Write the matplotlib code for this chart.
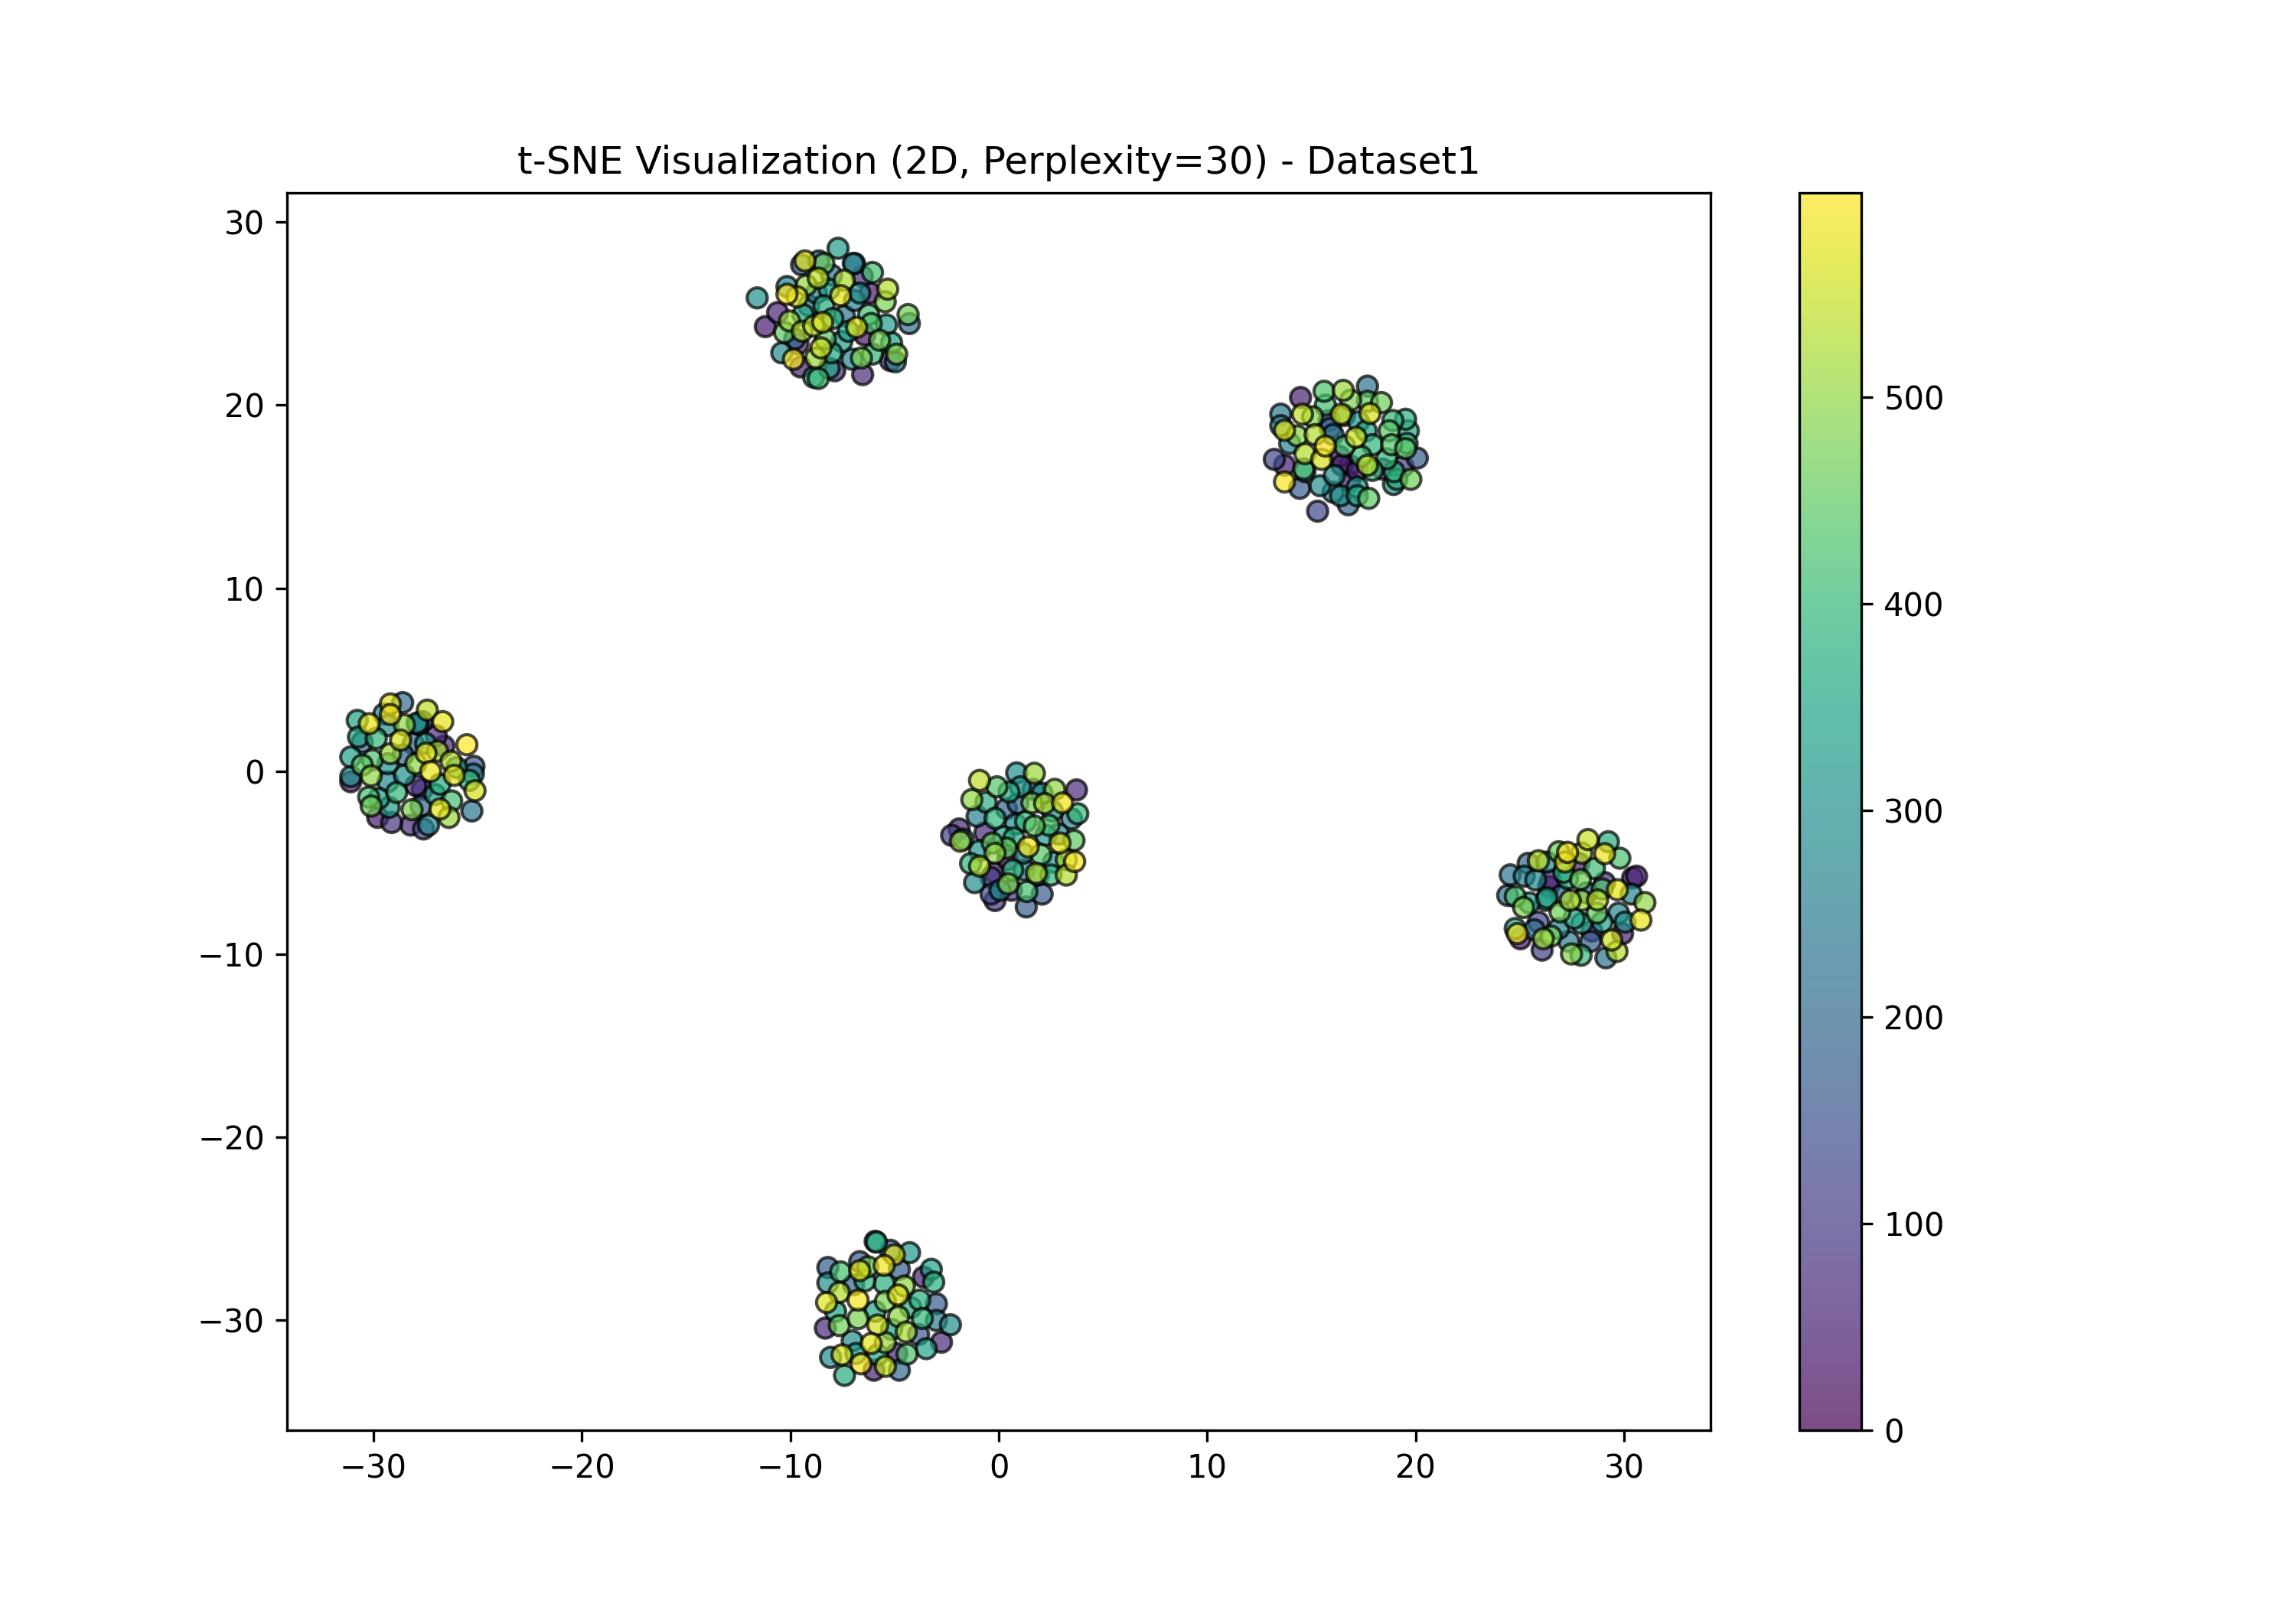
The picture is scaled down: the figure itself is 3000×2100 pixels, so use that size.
import numpy as np
import matplotlib
matplotlib.use("Agg")
import matplotlib.pyplot as plt

TITLE = "t-SNE Visualization (2D, Perplexity=30) - Dataset1"

top_x = [-11.20,-10.61,-6.53,-7.87,-9.51,-6.43,-5.20,-6.18,-6.55,-9.63,-9.46,-8.63,-9.79,-6.92,-8.02,-9.12,-7.41,-7.04,-10.16,-10.41,-11.59,-7.71,-6.98,-8.75,-4.96,-6.92,-6.67,-5.39,-5.14,-8.14,-7.53,-7.22,-9.39,-8.14,-8.02,-8.39,-6.06,-8.88,-7.96,-6.06,-6.24,-6.12,-8.39,-8.32,-4.29,-4.35,-5.45,-10.28,-8.66,-9.24,-7.41,-5.33,-8.78,-6.59,-5.72,-4.90,-10.04,-8.88,-9.43,-8.45,-8.66,-8.53,-6.82,-9.67,-7.59,-9.30,-10.16,-9.85]
top_y = [24.29,25.06,21.67,21.88,22.09,23.83,22.44,26.13,27.04,23.34,27.67,27.88,23.62,27.74,27.11,25.44,24.88,22.51,26.48,22.86,25.86,28.57,27.74,26.13,22.37,25.72,26.13,24.39,23.41,26.34,23.48,24.04,24.95,22.02,22.86,25.44,22.79,21.53,24.74,27.25,24.95,24.46,27.74,23.62,24.46,24.95,25.65,23.97,21.46,26.55,26.83,26.34,22.58,22.58,23.55,22.79,24.60,24.32,24.04,24.53,26.94,23.13,24.25,25.92,25.99,27.88,26.06,22.51]
top_c = [40,60,70,70,50,30,60,40,90,60,180,190,200,200,220,240,230,280,270,290,300,330,270,260,270,280,290,330,340,340,330,340,370,350,360,370,400,340,380,420,420,430,460,450,220,470,480,450,410,500,520,530,510,480,470,490,510,540,530,560,540,550,560,570,570,570,590,590]

ur_x = [14.48,13.71,13.22,15.30,14.44,20.08,16.77,17.69,13.53,13.53,13.96,16.83,16.46,16.34,16.83,19.40,18.42,15.85,15.91,16.04,17.20,14.69,15.42,16.10,16.04,16.40,17.20,17.20,18.94,19.10,18.97,18.61,17.93,17.26,17.63,16.59,15.61,15.67,18.36,17.69,16.89,16.53,18.91,19.52,19.65,19.59,18.73,18.85,19.52,17.38,17.93,16.59,14.63,15.06,19.77,17.75,14.32,15.18,14.57,16.43,17.81,17.14,14.69,15.49,15.67,17.69,13.71,13.71]
ur_y = [20.42,16.72,17.04,14.21,15.46,17.11,14.56,21.04,19.51,18.88,17.91,16.72,16.72,17.21,15.81,16.65,16.51,19.16,18.74,18.39,16.44,16.37,15.60,16.16,15.25,15.05,15.53,15.05,15.67,15.95,16.37,17.07,17.84,19.09,18.60,19.44,20.76,20.00,20.14,20.21,20.28,20.81,19.16,19.23,18.60,17.91,18.60,17.84,17.63,17.21,16.44,17.77,16.51,19.37,15.95,14.91,18.32,18.39,19.51,19.51,19.55,18.25,17.35,17.04,17.77,16.72,18.63,15.81]
ur_c = [50,40,130,130,170,170,190,230,240,260,280,20,50,40,60,100,60,120,180,230,70,260,290,300,280,290,320,360,320,370,390,390,390,310,350,290,430,420,470,450,480,510,400,380,360,400,440,440,440,410,400,420,430,480,470,450,490,530,540,560,560,550,530,560,590,540,570,590]

left_x = [-31.09,-29.80,-29.13,-28.21,-27.60,-28.60,-25.18,-26.62,-26.99,-27.66,-27.91,-28.09,-28.58,-30.54,-27.66,-27.97,-27.72,-25.28,-25.21,-27.36,-31.09,-29.31,-28.52,-30.78,-31.09,-30.72,-29.87,-29.50,-29.31,-27.85,-27.50,-29.31,-29.25,-29.74,-26.81,-27.05,-28.89,-30.23,-30.11,-30.05,-30.54,-30.11,-29.19,-28.52,-27.42,-26.68,-29.19,-29.19,-30.20,-28.70,-26.93,-27.97,-27.48,-27.26,-26.28,-26.13,-25.40,-25.13,-25.52,-26.25,-26.38,-28.15,-26.81,-26.01]
left_y = [-0.57,-2.52,-2.80,-2.94,-3.15,3.75,0.27,1.38,1.94,2.71,2.64,1.52,0.89,1.59,-0.99,-0.78,-1.90,-2.17,-0.15,-2.94,-0.29,-0.57,-0.22,2.78,0.78,1.87,1.80,3.13,2.50,2.57,1.52,0.41,-1.97,-1.48,-0.71,-1.27,-1.16,-1.41,-1.90,0.62,0.34,-0.25,0.96,2.54,3.34,2.71,3.68,3.10,2.60,1.70,1.10,0.41,0.99,-0.01,0.55,-0.22,-0.50,-1.06,1.45,-1.62,-2.52,-2.10,-2.06,0.20]
left_c = [50,40,90,70,140,210,170,60,70,100,290,190,200,180,60,90,200,230,250,280,290,280,300,350,340,350,400,280,300,280,320,310,330,340,370,330,400,420,470,430,450,500,510,500,540,580,570,590,580,560,520,500,580,580,530,570,400,560,599,420,510,480,575,340]

mid_x = [-1.90,-2.26,3.73,-0.67,-0.18,-0.37,-0.18,-0.37,1.32,2.08,0.37,0.92,1.65,0.61,-1.04,-1.16,0.86,0.06,3.49,-1.71,0.43,-0.92,1.04,2.08,2.57,0.80,0.24,2.26,2.88,1.16,2.63,1.22,1.90,-1.35,-0.61,0.49,-0.18,0.67,0.73,1.29,3.79,2.41,1.71,3.61,2.02,0.37,-0.31,2.51,-0.09,-0.92,-1.29,2.69,1.71,1.59,2.20,3.06,-1.84,-0.18,-0.92,1.41,2.94,3.24,3.24,3.64,1.80,0.45,1.35]
mid_y = [-3.15,-3.50,-1.02,-3.36,-7.06,-6.71,-5.53,-5.81,-7.41,-6.71,-2.04,-1.76,-0.99,-6.50,-2.46,-6.08,-0.09,-6.50,-2.60,-3.71,-4.83,-4.34,-0.85,-1.20,-2.18,-2.88,-3.57,-3.50,-3.43,-4.48,-4.97,-5.39,-5.67,-5.04,-1.69,-1.13,-2.57,-5.39,-3.64,-2.74,-2.32,-2.95,-2.99,-3.78,-4.55,-4.20,-3.92,-5.67,-0.85,-0.50,-1.55,-0.99,-0.11,-1.73,-1.76,-1.73,-3.82,-4.48,-5.18,-4.13,-3.92,-5.67,-4.83,-4.93,-5.57,-6.15,-6.57]
mid_c = [60,120,70,70,90,150,50,100,170,170,190,200,210,90,260,290,300,280,250,260,60,320,320,300,310,290,340,320,280,300,310,280,300,390,380,360,390,390,370,400,400,430,450,450,440,460,460,400,440,540,500,500,510,480,530,580,510,500,530,590,570,530,520,595,530,480,420]

right_x = [30.60,30.41,26.07,28.40,29.13,26.50,26.38,27.84,29.07,25.03,29.93,28.46,25.89,25.70,25.40,24.54,24.42,27.35,26.31,25.21,25.76,26.87,29.74,30.35,30.05,28.21,26.99,26.25,26.31,25.46,27.11,27.29,24.78,28.58,28.95,27.97,27.60,29.25,29.80,24.78,26.87,27.97,27.94,28.95,26.93,26.50,25.18,27.91,28.70,27.97,27.42,28.73,31.00,29.66,26.13,27.48,29.41,25.89,27.17,28.27,27.29,29.07,29.68,30.81,24.88]
right_y = [-5.73,-5.83,-9.77,-9.29,-10.19,-5.94,-6.29,-5.03,-6.08,-9.15,-8.87,-8.73,-8.24,-8.66,-5.03,-5.66,-6.78,-9.29,-4.96,-5.73,-5.94,-8.59,-7.75,-6.71,-8.24,-6.64,-6.78,-7.05,-6.91,-7.19,-5.52,-5.87,-6.84,-5.31,-8.24,-8.31,-8.03,-3.85,-4.75,-8.59,-4.40,-4.47,-10.05,-6.43,-7.68,-9.01,-7.44,-5.91,-7.75,-7.05,-7.05,-7.03,-7.17,-9.84,-9.15,-9.98,-9.22,-4.89,-4.96,-3.73,-4.43,-4.50,-6.47,-8.13,-8.87]
right_c = [60,40,110,170,220,70,50,60,80,40,50,60,130,200,200,230,220,250,280,270,280,270,270,280,300,230,210,310,350,330,370,360,430,410,340,350,360,370,430,370,470,540,400,430,470,470,480,470,460,510,520,540,500,530,510,490,550,540,570,550,590,580,575,580,590]

bottom_x = [-8.32,-2.75,-5.99,-3.61,-5.20,-8.20,-6.67,-4.77,-4.77,-2.99,-3.85,-4.89,-2.99,-2.32,-8.07,-5.93,-4.28,-8.20,-6.97,-3.24,-3.12,-3.48,-7.03,-7.40,-7.83,-7.59,-6.42,-5.50,-5.93,-3.79,-4.22,-5.87,-5.81,-6.85,-5.14,-3.67,-4.40,-7.65,-6.75,-4.53,-5.44,-4.81,-5.44,-4.44,-7.65,-7.52,-8.26,-6.75,-6.67,-6.28,-5.50,-5.01,-4.83,-5.81,-6.12,-6.61,-5.44]
bottom_y = [-30.42,-31.19,-32.72,-27.63,-26.17,-27.11,-26.79,-27.21,-32.72,-29.09,-30.77,-31.81,-30.00,-30.24,-32.02,-25.68,-26.30,-27.95,-28.05,-27.21,-27.91,-31.54,-31.12,-33.00,-29.51,-27.35,-27.84,-27.98,-29.51,-28.89,-29.30,-25.72,-31.88,-31.81,-30.49,-29.89,-31.84,-30.28,-29.90,-28.12,-28.96,-29.79,-31.21,-30.63,-28.47,-31.88,-29.02,-28.89,-27.28,-27.07,-27.00,-26.42,-28.61,-30.25,-31.26,-32.37,-32.51]
bottom_c = [70,70,50,50,180,170,170,170,200,170,170,60,250,290,290,260,320,300,190,340,380,340,290,370,350,420,390,380,360,380,370,380,360,340,350,400,430,470,480,500,480,500,510,520,530,560,570,590,575,470,585,565,570,555,575,590,550]

x = np.array(top_x + ur_x + left_x + mid_x + right_x + bottom_x)
y = np.array(top_y + ur_y + left_y + mid_y + right_y + bottom_y)
c = np.array(top_c + ur_c + left_c + mid_c + right_c + bottom_c)
order = np.argsort(c, kind="stable")

fig, ax = plt.subplots(figsize=(10, 7), dpi=300)
sc = ax.scatter(x[order], y[order], c=c[order], cmap="viridis", vmin=0, vmax=599,
                s=40, alpha=0.7, edgecolors="k")
ax.set_xlim(-34.15, 34.15)
ax.set_ylim(-36.0, 31.6)
ax.set_title(TITLE)
fig.colorbar(sc, ax=ax)
fig.savefig("out.png", dpi=300)
